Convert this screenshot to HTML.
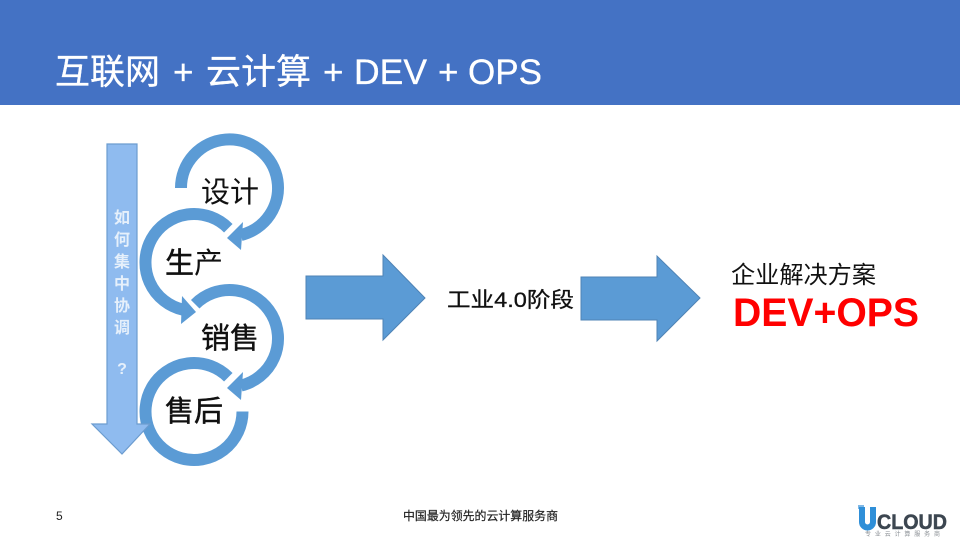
<!DOCTYPE html>
<html lang="zh">
<head>
<meta charset="utf-8">
<style>
html,body{margin:0;padding:0;background:#fff;width:960px;height:540px;overflow:hidden}
svg{display:block;filter:blur(.3px)}
text{font-family:"Liberation Sans","Noto Sans CJK SC",sans-serif}
</style>
</head>
<body>
<svg width="960" height="540" viewBox="0 0 960 540" xmlns="http://www.w3.org/2000/svg">
<rect width="960" height="540" fill="#fff"/>
<rect width="960" height="105" fill="#4472c4"/>
<g fill="#fff" stroke="#fff" stroke-width=".3">
<text x="55" y="84" font-size="35">互联网</text>
<text x="173" y="84" font-size="35">+</text>
<text x="206" y="84" font-size="35">云计算</text>
<text x="323" y="84" font-size="35">+</text>
<text x="354" y="84" font-size="35.5">DEV</text>
<text x="438" y="84" font-size="35">+</text>
<text x="468" y="84" font-size="35">OPS</text>
</g>

<!-- rings -->
<g fill="none" stroke="#5b9bd5" stroke-width="12">
<path d="M181 188 A48.5 48.5 0 1 1 241 235"/>
<path d="M228.3 228.2 A48.5 48.5 0 1 0 183 309.7"/>
<path d="M195.2 304.2 A48.5 48.5 0 1 1 241 385.6"/>
<path d="M228.3 377.2 A48.5 48.5 0 1 0 242.5 411.5"/>
</g>
<g fill="#5b9bd5">
<polygon points="227,238 243,222 241,250"/>
<polygon points="196,312 182,296 181,324"/>
<polygon points="227,388 243,372 241,400"/>
</g>

<!-- vertical arrow -->
<polygon points="107,144 137,144 137,424 150,424 122,454 92,424 107,424" fill="#8fbbef" stroke="#6c9ccf" stroke-width="1.2"/>
<g font-size="16" font-weight="700" fill="#e6f0fb" text-anchor="middle">
<text x="122" y="223">如</text>
<text x="122" y="245">何</text>
<text x="122" y="267">集</text>
<text x="122" y="289">中</text>
<text x="122" y="311">协</text>
<text x="122" y="333">调</text>
<text x="122" y="374">?</text>
</g>

<!-- ring labels -->
<g font-size="29" fill="#111">
<text x="201" y="202">设计</text>
<text x="165" y="273"><tspan stroke="#111" stroke-width=".5">生</tspan>产</text>
<text x="201" y="348" stroke="#111" stroke-width=".4">销售</text>
<text x="165" y="421" stroke="#111" stroke-width=".5">售后</text>
</g>

<!-- block arrows -->
<polygon points="306,276 383,276 383,255 425,298 383,340 383,319 306,319" fill="#5b9bd5" stroke="#4f83b5" stroke-width="1"/>
<polygon points="581,277 657,277 657,256 700,298 657,341 657,320 581,320" fill="#5b9bd5" stroke="#4f83b5" stroke-width="1"/>

<text x="447" y="307" font-size="21" fill="#111" stroke="#111" stroke-width=".3" textLength="127" lengthAdjust="spacingAndGlyphs">工业4.0阶段</text>
<text x="731" y="283" font-size="24" fill="#111" textLength="145" lengthAdjust="spacingAndGlyphs">企业解决方案</text>
<text x="733" y="326" font-size="40" font-weight="700" fill="#ff0000" textLength="186" lengthAdjust="spacingAndGlyphs">DEV+OPS</text>

<!-- footer -->
<text x="56" y="520" font-size="12" fill="#222">5</text>
<text x="403" y="520" font-size="12" fill="#222" stroke="#222" stroke-width=".2" textLength="155" lengthAdjust="spacingAndGlyphs">中国最为领先的云计算服务商</text>

<!-- logo -->
<rect x="858" y="505" width="6" height="4" fill="#7fb8e6"/>
<path d="M862 507 V522 A5.5 5.5 0 0 0 873 522 V507" fill="none" stroke="#2f8fd8" stroke-width="6"/>
<text x="877" y="529" font-size="21" font-weight="700" fill="#3c4650" stroke="#3c4650" stroke-width=".5" textLength="70" lengthAdjust="spacingAndGlyphs">CLOUD</text>
<text x="865" y="536" font-size="6" fill="#8a8f94" textLength="75" lengthAdjust="spacing">专业云计算服务商</text>
</svg>
</body>
</html>
